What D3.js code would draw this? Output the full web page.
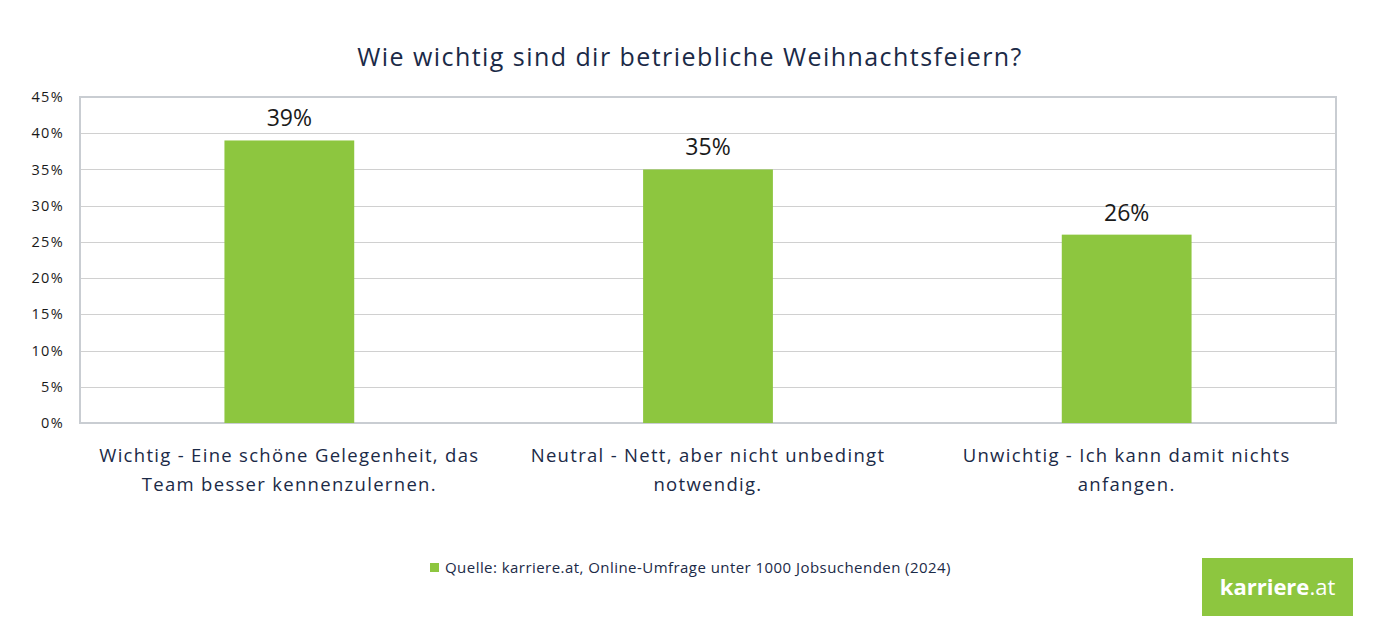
<!DOCTYPE html>
<html>
<head>
<meta charset="utf-8">
<script src="https://cdnjs.cloudflare.com/ajax/libs/d3/7.8.5/d3.min.js"></script>
<style>
  body { margin: 0; background: #fff; }
  svg text { font-family: "Open Sans", sans-serif; }
</style>
</head>
<body>
<svg id="chart" width="1391" height="630"></svg>
<script>
const categories = [
  ["Wichtig - Eine schöne Gelegenheit, das", "Team besser kennenzulernen."],
  ["Neutral - Nett, aber nicht unbedingt", "notwendig."],
  ["Unwichtig - Ich kann damit nichts", "anfangen."]
];
const values = [39, 35, 26];
const yTicks = [0, 5, 10, 15, 20, 25, 30, 35, 40, 45];
const title = "Wie wichtig sind dir betriebliche Weihnachtsfeiern?";
const legendText = "Quelle: karriere.at, Online-Umfrage unter 1000 Jobsuchenden (2024)";

const green = "#8dc63f";
const navy = "#1b2a47";
const svg = d3.select("#chart");
const m = { left: 80, right: 1336, top: 97, bottom: 423 };

const x = d3.scaleBand().domain(d3.range(categories.length)).range([m.left, m.right]).paddingInner(0.69).paddingOuter(0.345);
const y = d3.scaleLinear().domain([0, 45]).range([m.bottom, m.top]);

// gridlines
svg.append("g").selectAll("line").data(yTicks.filter(t => t > 0 && t < 45)).join("line")
  .attr("x1", m.left).attr("x2", m.right)
  .attr("y1", d => Math.round(y(d)) + 0.5).attr("y2", d => Math.round(y(d)) + 0.5)
  .attr("stroke", "#d0d0d0").attr("stroke-width", 1);

// frame
svg.append("rect").attr("x", m.left).attr("y", m.top)
  .attr("width", m.right - m.left).attr("height", m.bottom - m.top)
  .attr("fill", "none").attr("stroke", "#c9cdd2").attr("stroke-width", 2);

// y axis labels
const yAxis = d3.axisLeft(y).tickValues(yTicks).tickFormat(d => d + "%").tickSize(0).tickPadding(16);
const ya = svg.append("g").attr("transform", `translate(${m.left},0)`).call(yAxis);
ya.select(".domain").remove();
ya.selectAll("text").attr("font-size", 14.5).attr("fill", "#1a1a1a")
  .style("font-family", '"Open Sans", sans-serif').style("letter-spacing", "1.3px");

// bars
svg.append("g").selectAll("rect").data(values).join("rect")
  .attr("x", (d, i) => x(i)).attr("width", x.bandwidth())
  .attr("y", d => y(d)).attr("height", d => y(0) - y(d))
  .attr("fill", green);

// data labels
svg.append("g").selectAll("text").data(values).join("text")
  .attr("x", (d, i) => x(i) + x.bandwidth() / 2)
  .attr("y", d => y(d) - 14)
  .attr("text-anchor", "middle").attr("font-size", 23).attr("fill", "#1a1a1a")
  .text(d => d + "%");

// category labels
const catG = svg.append("g").selectAll("text").data(categories).join("text")
  .attr("text-anchor", "middle").attr("font-size", 18.5).attr("fill", navy)
  .style("letter-spacing", "1.3px");
catG.each(function(lines, i) {
  const t = d3.select(this);
  lines.forEach((ln, j) => {
    t.append("tspan").attr("x", x(i) + x.bandwidth() / 2).attr("y", 462 + j * 29).text(ln);
  });
});

// title
svg.append("text").attr("x", 690).attr("y", 66).attr("text-anchor", "middle")
  .attr("font-size", 25).attr("fill", navy).style("letter-spacing", "1.45px").text(title);

// legend
svg.append("rect").attr("x", 430).attr("y", 563).attr("width", 9).attr("height", 9).attr("fill", green);
svg.append("text").attr("x", 445).attr("y", 573).attr("font-size", 15).attr("fill", navy)
  .style("letter-spacing", "0.45px").text(legendText);

// logo
svg.append("rect").attr("x", 1202).attr("y", 558).attr("width", 151).attr("height", 58).attr("fill", green);
const logo = svg.append("text").attr("x", 1277.5).attr("y", 595).attr("text-anchor", "middle")
  .attr("font-size", 22).attr("fill", "#fff");
logo.append("tspan").attr("font-weight", 700).text("karriere");
logo.append("tspan").attr("font-weight", 400).text(".at");
</script>
</body>
</html>
